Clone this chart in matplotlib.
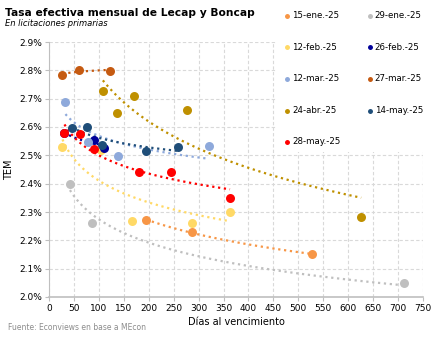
import numpy as np
import matplotlib
matplotlib.use('Agg')
import matplotlib.pyplot as plt

plt.rcParams['font.family'] = ['DejaVu Sans']

# Datos: días al vencimiento y TEM (%)
labels = ['15-ene.-25', '29-ene.-25', '12-feb.-25', '26-feb.-25', '12-mar.-25',
          '27-mar.-25', '24-abr.-25', '14-may.-25', '28-may.-25']
colores = ['#F79646', '#BFBFBF', '#FFD966', '#000099', '#8EA9DB',
           '#C55A11', '#BF9000', '#1F4E79', '#FF0000']

dias_ene15 = [195, 286, 527]
tem_ene15 = [2.272, 2.229, 2.151]
dias_ene29 = [42, 87, 712]
tem_ene29 = [2.400, 2.260, 2.049]
dias_feb12 = [27, 104, 167, 286, 363]
tem_feb12 = [2.530, 2.520, 2.269, 2.260, 2.299]
dias_feb26 = [30, 91, 110]
tem_feb26 = [2.580, 2.554, 2.525]
dias_mar12 = [33, 78, 139, 321]
tem_mar12 = [2.687, 2.548, 2.497, 2.533]
dias_mar27 = [27, 60, 122]
tem_mar27 = [2.785, 2.800, 2.799]
dias_abr24 = [108, 136, 171, 276, 626]
tem_abr24 = [2.726, 2.648, 2.709, 2.659, 2.283]
dias_may14 = [46, 76, 106, 195, 258]
tem_may14 = [2.595, 2.601, 2.537, 2.516, 2.530]
dias_may28 = [31, 62, 91, 181, 245, 363]
tem_may28 = [2.578, 2.574, 2.521, 2.442, 2.441, 2.348]

dias = [dias_ene15, dias_ene29, dias_feb12, dias_feb26, dias_mar12,
        dias_mar27, dias_abr24, dias_may14, dias_may28]
tem = [tem_ene15, tem_ene29, tem_feb12, tem_feb26, tem_mar12,
       tem_mar27, tem_abr24, tem_may14, tem_may28]

fig = plt.figure(figsize=(4.43, 3.40), dpi=100)
ax = fig.add_axes([49 / 443, 1 - 297 / 340, 374 / 443, 255 / 340])

handles = []
for x, y, c, l in zip(dias, tem, colores, labels):
    x = np.array(x, dtype=float)
    y = np.array(y)
    # tendencia logarítmica
    a, b = np.polyfit(np.log(x), y, deg=1)
    xx = np.linspace(x.min(), x.max(), 100)
    ax.plot(xx, a * np.log(xx) + b, ':', color=c, linewidth=1.6, zorder=2)
    h = ax.scatter(x, y, s=42, color=c, label=l, zorder=3, linewidths=0)
    handles.append(h)

ax.set_xlim(0, 750)
ax.set_ylim(2.0, 2.9)
ax.set_xticks(np.arange(0, 751, 50))
ax.set_yticks(np.arange(2.0, 2.91, 0.1))
ax.set_yticklabels([f'{v:.1f}%' for v in np.arange(2.0, 2.91, 0.1)])
ax.grid(True, color='#D9D9D9', linestyle=(0, (3, 2)), linewidth=0.8)
ax.set_axisbelow(True)
for s in ['top', 'right']:
    ax.spines[s].set_visible(False)
ax.spines['left'].set_color('#BFBFBF')
ax.spines['bottom'].set_color('#BFBFBF')
ax.spines['bottom'].set_linewidth(1.2)
ax.tick_params(axis='both', labelsize=6.5, length=3, color='#BFBFBF', pad=2)
ax.set_xlabel('Días al vencimiento', fontsize=7, labelpad=3)
ax.set_ylabel('TEM', fontsize=7, labelpad=4)

orden = [0, 2, 4, 6, 8, 1, 3, 5, 7]
leg = fig.legend([handles[i] for i in orden], [labels[i] for i in orden],
                 ncol=2, loc='upper left', bbox_to_anchor=(273 / 443, 1 - 1 / 340),
                 fontsize=6.2, frameon=True, facecolor='white', edgecolor='none',
                 framealpha=1, markerscale=0.55, handletextpad=0.05,
                 labelspacing=2.63, columnspacing=2.95, borderpad=0.65,
                 handlelength=1.0, fancybox=False)

fig.text(5 / 443, 1 - 13 / 340, 'Tasa efectiva mensual de Lecap y Boncap',
         fontsize=7.7, fontweight='bold', va='center')
fig.text(5 / 443, 1 - 24 / 340, 'En licitaciones primarias',
         fontsize=6, style='italic', va='center')
fig.text(8 / 443, 1 - 328 / 340, 'Fuente: Econviews en base a MEcon',
         fontsize=5.5, color='#8C8C8C', va='center')

plt.savefig('out.png', dpi=100)
plt.close()
